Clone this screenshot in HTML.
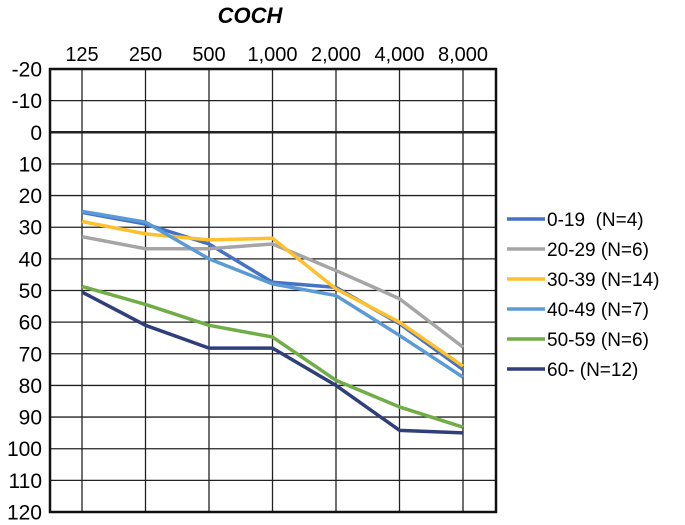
<!DOCTYPE html>
<html><head><meta charset="utf-8"><style>
html,body{margin:0;padding:0;background:#fff;}
svg{display:block;font-family:"Liberation Sans",Arial,sans-serif;}
</style></head><body>
<svg id="chart" width="685" height="525" viewBox="0 0 685 525">
<text x="250" y="23" text-anchor="middle" font-size="22" font-weight="bold" font-style="italic">COCH</text>
<g id="grid"></g>
<g id="xlabels"></g>
<g id="ylabels"></g>
<g id="series"></g>
<g id="legend"></g>
</svg>
<script>
const categories = ["125","250","500","1,000","2,000","4,000","8,000"];
const yTicks = [-20,-10,0,10,20,30,40,50,60,70,80,90,100,110,120];
const seriesNames = ["0-19  (N=4)","20-29 (N=6)","30-39 (N=14)","40-49 (N=7)","50-59 (N=6)","60- (N=12)"];
const s0_19 = [25.3,29,35.3,47.4,49,60.5,75];
const s20_29 = [33,36.8,36.8,35.3,43.7,52.6,67.9];
const s30_39 = [28.2,32.1,34,33.5,49.5,60,73.9];
const s40_49 = [25,28.4,40,47.9,51.6,64.2,77.4];
const s50_59 = [48.7,54.4,61,64.7,78.4,86.8,93.2];
const s60 = [50.5,61,68.2,68.2,80,94.2,95];
const allSeries = [s0_19,s20_29,s30_39,s40_49,s50_59,s60];
const colors = ["#4472c4","#a5a5a5","#ffc02e","#5b9bd5","#70ad47","#2f3f7a"];

const L=50,R=496,T=69,B=512;
const x=i=>82+i*63.5;
const y=v=>T+(v+20)*(B-T)/140;
const NS="http://www.w3.org/2000/svg";
function mk(tag,attrs,parent){const e=document.createElementNS(NS,tag);for(const k in attrs)e.setAttribute(k,attrs[k]);parent.appendChild(e);return e;}
const grid=document.getElementById('grid');
yTicks.forEach(v=>{
  const l=mk('line',{x1:L,x2:R,y1:y(v),y2:y(v),stroke:'#222','stroke-width':v===0?2.5:1.3},grid);
  
  
  const t=mk('text',{x:42,y:y(v)+7.5,'text-anchor':'end','font-size':21},document.getElementById('ylabels'));
  t.textContent=v;
  
  
});
categories.forEach((c,i)=>{
  const l=mk('line',{x1:x(i),x2:x(i),y1:T,y2:B,stroke:'#222','stroke-width':1.3},grid);
  
  
  const t=mk('text',{x:x(i),y:61,'text-anchor':'middle','font-size':20},document.getElementById('xlabels'));
  t.textContent=c;
  
  
});
const border=mk('rect',{x:L,y:T,width:R-L,height:B-T,fill:'none',stroke:'#111','stroke-width':2.5},grid);


const sg=document.getElementById('series');
allSeries.forEach((s,k)=>{
  const p=mk('polyline',{points:s.map((v,i)=>x(i)+','+y(v)).join(' '),fill:'none',stroke:colors[k],'stroke-width':3.5,'stroke-linejoin':'round'},sg);
  
  
});
const lg=document.getElementById('legend');
seriesNames.forEach((n,k)=>{
  const yy=219+k*30;
  const g=mk('g',{},lg);
  
  
  mk('line',{x1:507,x2:545,y1:yy,y2:yy,stroke:colors[k],'stroke-width':3.5},g);
  const t=mk('text',{x:547,y:yy+7,'font-size':19},g);
  t.textContent=n;
  t.setAttribute('xml:space','preserve');
  t.style.whiteSpace='pre';
});
</script>
</body></html>
